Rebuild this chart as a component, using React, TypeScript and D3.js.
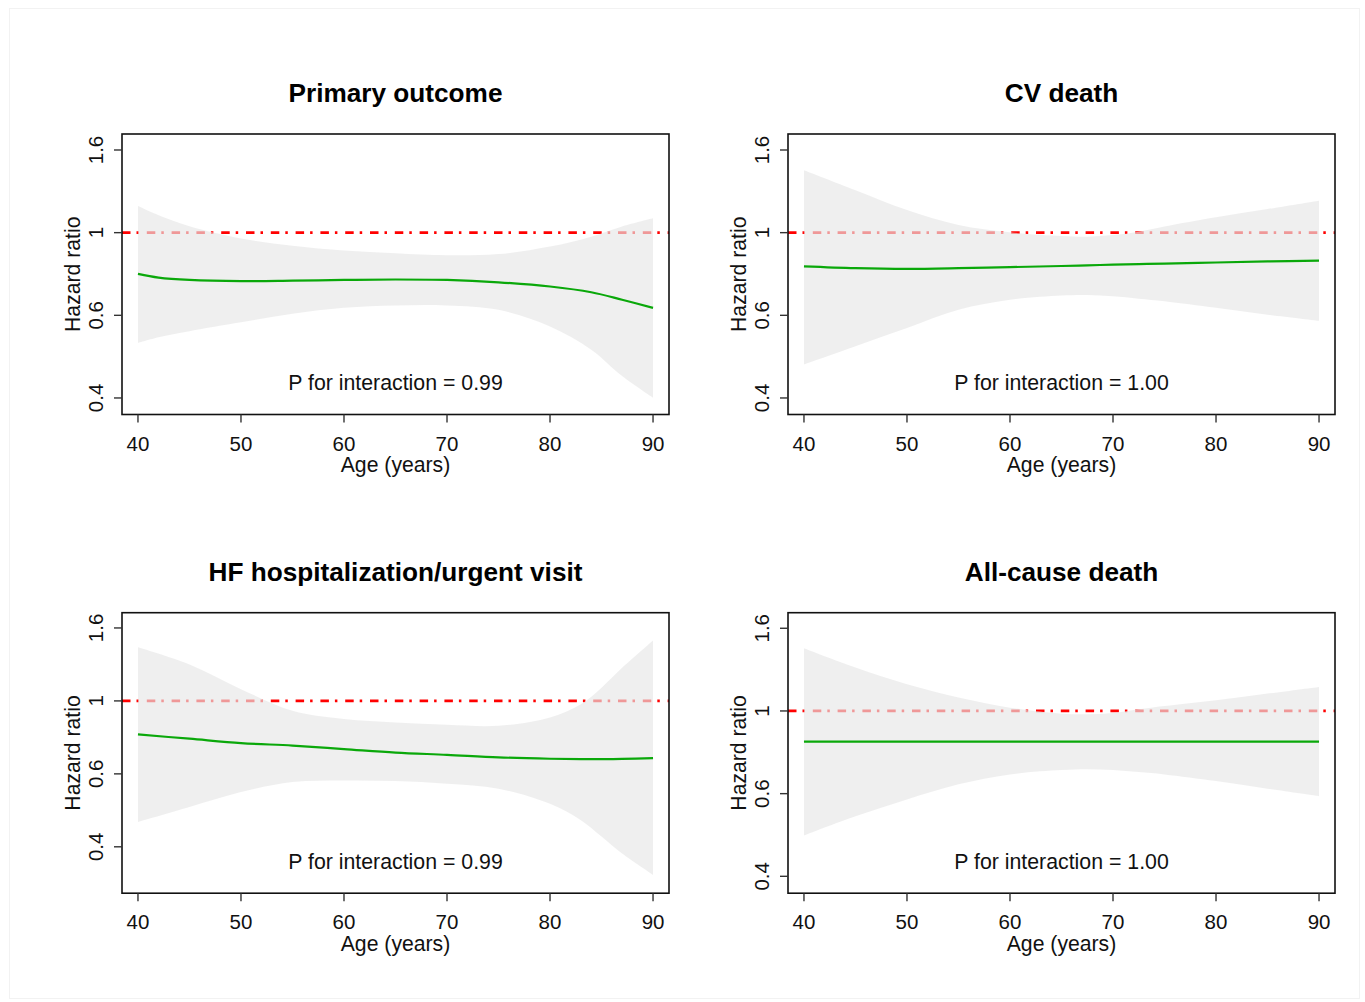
import React from 'react'
import * as d3 from 'd3'

// panel titles and p values
const titles = ['Primary outcome', 'CV death', 'HF hospitalization/urgent visit', 'All-cause death']
const pLabels = ['P for interaction = 0.99', 'P for interaction = 1.00', 'P for interaction = 0.99', 'P for interaction = 1.00']

// axis ticks (log-spaced hazard ratio ticks, rounded labels)
const xTicks = [40, 50, 60, 70, 80, 90]
const yTickValues = [0.4066, 0.6376, 1, 1.5683]
const yTickLabels = ['0.4', '0.6', '1', '1.6']

// y ranges per panel
const yDomains = [
  [0.3716, 1.711],
  [0.3716, 1.711],
  [0.3054, 1.723],
  [0.3709, 1.707],
]

// Primary outcome
const ages1 = [40, 42, 45, 50, 55, 60, 65, 70, 75, 80, 84, 87, 90]
const hr1 = [0.799, 0.783, 0.773, 0.768, 0.770, 0.773, 0.775, 0.773, 0.763, 0.746, 0.723, 0.694, 0.664]
const lo1 = [0.549, 0.566, 0.585, 0.614, 0.643, 0.664, 0.673, 0.673, 0.657, 0.600, 0.529, 0.458, 0.407]
const hi1 = [1.156, 1.100, 1.036, 0.969, 0.931, 0.907, 0.894, 0.884, 0.890, 0.927, 0.978, 1.034, 1.081]

// CV death
const ages2 = [40, 45, 50, 55, 60, 65, 67.5, 70, 72.5, 75, 80, 85, 90]
const hr2 = [0.832, 0.824, 0.821, 0.824, 0.829, 0.834, 0.837, 0.840, 0.843, 0.845, 0.850, 0.855, 0.859]
const lo2 = [0.488, 0.539, 0.595, 0.657, 0.694, 0.710, 0.712, 0.707, 0.698, 0.688, 0.664, 0.640, 0.619]
const hi2 = [1.405, 1.260, 1.131, 1.043, 1.002, 0.982, 0.978, 0.987, 1.005, 1.034, 1.087, 1.137, 1.190]

// HF hospitalization/urgent visit
const ages3 = [40, 45, 50, 55, 60, 65, 70, 75, 80, 83, 85, 87, 90]
const hr3 = [0.813, 0.792, 0.771, 0.759, 0.743, 0.727, 0.717, 0.706, 0.700, 0.698, 0.698, 0.699, 0.703]
const lo3 = [0.474, 0.520, 0.570, 0.606, 0.612, 0.610, 0.600, 0.582, 0.530, 0.479, 0.433, 0.390, 0.342]
const hi3 = [1.392, 1.252, 1.075, 0.941, 0.894, 0.875, 0.863, 0.858, 0.903, 0.980, 1.085, 1.226, 1.451]

// All-cause death
const ages4 = [40, 45, 50, 55, 60, 65, 67.5, 70, 72.5, 75, 80, 85, 90]
const hr4 = [0.846, 0.846, 0.846, 0.846, 0.846, 0.846, 0.846, 0.846, 0.846, 0.846, 0.846, 0.846, 0.846]
const lo4 = [0.508, 0.564, 0.618, 0.671, 0.708, 0.725, 0.728, 0.725, 0.717, 0.708, 0.683, 0.655, 0.629]
const hi4 = [1.406, 1.266, 1.156, 1.076, 1.018, 0.985, 0.982, 0.989, 1.009, 1.027, 1.060, 1.099, 1.140]

const series = [
  { ages: ages1, hr: hr1, lo: lo1, hi: hi1 },
  { ages: ages2, hr: hr2, lo: lo2, hi: hi2 },
  { ages: ages3, hr: hr3, lo: lo3, hi: hi3 },
  { ages: ages4, hr: hr4, lo: lo4, hi: hi4 },
]

const FONT = '"Liberation Sans", Arial, Helvetica, sans-serif'
const boxW = 547
const boxH = 280.5
const origins = [
  [122, 134],
  [788, 134],
  [122, 612.7],
  [788, 612.7],
]

type PanelProps = { idx: number }

const Panel = ({ idx }: PanelProps) => {
  const [left, top] = origins[idx]
  const s = series[idx]
  const x = d3.scaleLinear().domain([38.45, 91.55]).range([left, left + boxW])
  const y = d3.scaleLog().domain(yDomains[idx]).range([top + boxH, top])
  const pts = s.ages.map((a, i) => ({ a, hr: s.hr[i], lo: s.lo[i], hi: s.hi[i] }))

  const curve = d3.curveCatmullRom.alpha(0.5)
  const area = d3.area<any>()
    .x((d) => x(d.a))
    .y0((d) => y(d.lo))
    .y1((d) => y(d.hi))
    .curve(curve)
  const line = d3.line<any>()
    .x((d) => x(d.a))
    .y((d) => y(d.hr))
    .curve(curve)

  const cx = left + boxW / 2
  const bottom = top + boxH
  const clipId = `clip-${idx}`

  return (
    <g>
      <defs>
        <clipPath id={clipId}>
          <rect x={left} y={top} width={boxW} height={boxH} />
        </clipPath>
      </defs>
      <text x={cx} y={top - 32} textAnchor="middle" fontFamily={FONT} fontWeight="bold" fontSize={26.2} fill="#000">
        {titles[idx]}
      </text>
      <g clipPath={`url(#${clipId})`}>
        <line
          x1={left} x2={left + boxW} y1={y(1)} y2={y(1)}
          stroke="#ff0000" strokeWidth={2.7} strokeDasharray="8.5 6 2.5 7.8"
        />
        <path d={area(pts) || ''} fill="#e6e6e6" fillOpacity={0.66} />
        <path d={line(pts) || ''} fill="none" stroke="#0aa80a" strokeWidth={2.2} />
      </g>
      <rect x={left} y={top} width={boxW} height={boxH} fill="none" stroke="#111" strokeWidth={1.6} />
      {/* x axis */}
      {xTicks.map((t) => (
        <g key={`x${t}`}>
          <line x1={x(t)} x2={x(t)} y1={bottom} y2={bottom + 8} stroke="#333" strokeWidth={1.4} />
          <text x={x(t)} y={bottom + 36} textAnchor="middle" fontFamily={FONT} fontSize={20.5} fill="#111">
            {t}
          </text>
        </g>
      ))}
      <text x={cx} y={bottom + 57.5} textAnchor="middle" fontFamily={FONT} fontSize={21.2} fill="#111">
        Age (years)
      </text>
      {/* y axis */}
      {yTickValues.map((t, i) => (
        <g key={`y${i}`}>
          <line x1={left - 8} x2={left} y1={y(t)} y2={y(t)} stroke="#333" strokeWidth={1.4} />
          <text
            transform={`translate(${left - 19},${y(t)}) rotate(-90)`}
            textAnchor="middle" fontFamily={FONT} fontSize={20.5} fill="#111"
          >
            {yTickLabels[i]}
          </text>
        </g>
      ))}
      <text
        transform={`translate(${left - 42},${top + boxH / 2}) rotate(-90)`}
        textAnchor="middle" fontFamily={FONT} fontSize={21.2} fill="#111"
      >
        Hazard ratio
      </text>
      <text x={cx} y={bottom - 24.5} textAnchor="middle" fontFamily={FONT} fontSize={21.3} fill="#111">
        {pLabels[idx]}
      </text>
    </g>
  )
}

const App = () => (
  <svg
    width={1365}
    height={1002}
    style={{ position: 'absolute', left: 0, top: 0, display: 'block' }}
  >
    <rect x={0} y={0} width={1365} height={1002} fill="#fff" />
    <rect x={9.5} y={8.5} width={1350} height={990} fill="none" stroke="#f2f2f2" strokeWidth={1} />
    {titles.map((_, i) => (
      <Panel key={i} idx={i} />
    ))}
  </svg>
)

export default App
